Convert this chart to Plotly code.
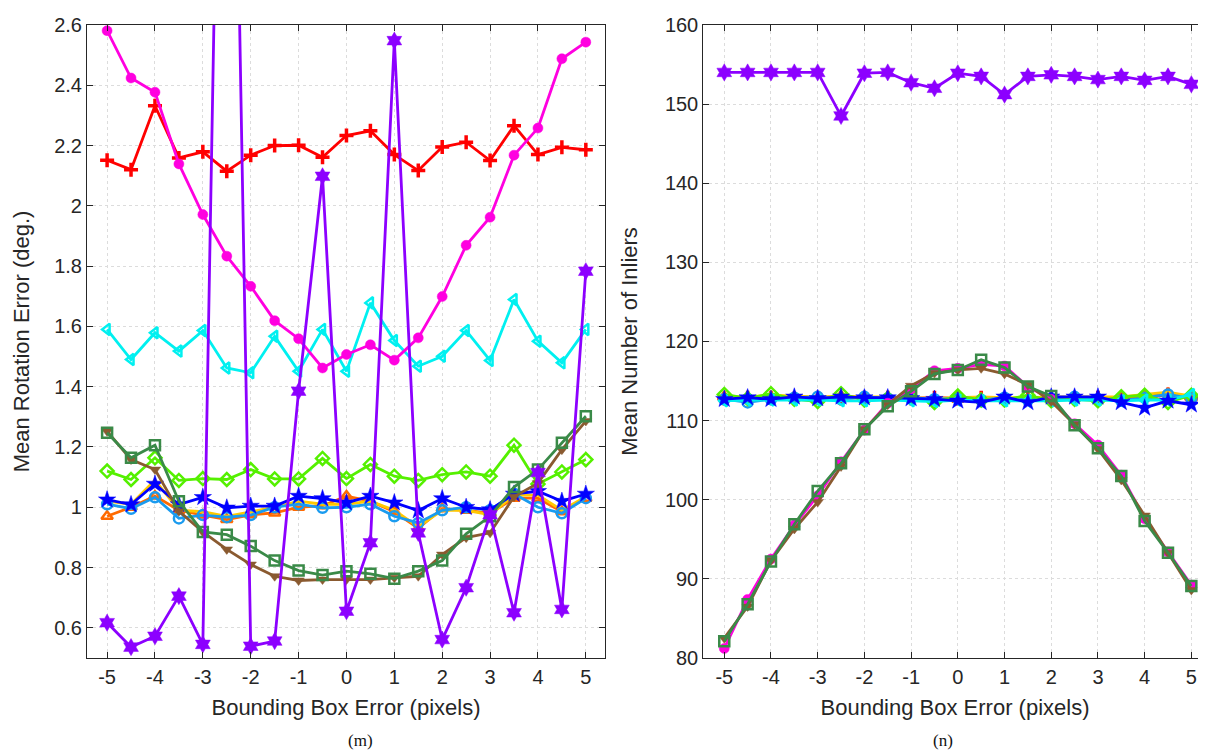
import plotly.graph_objects as go

x_err = [-5, -4.5, -4, -3.5, -3, -2.5, -2, -1.5, -1, -0.5, 0, 0.5, 1, 1.5, 2, 2.5, 3, 3.5, 4, 4.5, 5]

# ---- Left panel: mean rotation error (deg.) ----
rot_red = [2.151, 2.120, 2.332, 2.159, 2.179, 2.115, 2.168, 2.200, 2.201, 2.161, 2.233, 2.249, 2.170, 2.117, 2.195, 2.211, 2.150, 2.266, 2.170, 2.194, 2.186]
rot_orange = [0.970, 1.000, 1.037, 0.990, 0.974, 0.959, 0.975, 0.981, 1.000, 1.005, 1.037, 1.020, 0.985, 0.930, 0.995, 0.990, 0.980, 1.030, 1.030, 0.985, 1.030]
rot_yellow = [1.020, 1.010, 1.090, 0.990, 0.985, 0.970, 0.985, 1.000, 1.020, 1.010, 1.010, 1.020, 0.990, 0.935, 0.990, 0.990, 0.975, 1.040, 1.040, 0.990, 1.035]
rot_lblue = [1.010, 0.995, 1.033, 0.963, 0.974, 0.967, 0.974, 1.000, 1.010, 0.998, 1.000, 1.010, 0.970, 0.948, 0.990, 1.000, 0.990, 1.045, 1.000, 0.980, 1.030]
rot_lime = [1.120, 1.092, 1.164, 1.089, 1.095, 1.092, 1.125, 1.094, 1.094, 1.162, 1.095, 1.142, 1.103, 1.089, 1.108, 1.117, 1.103, 1.206, 1.077, 1.117, 1.158]
rot_cyan = [1.590, 1.490, 1.579, 1.518, 1.586, 1.462, 1.446, 1.567, 1.451, 1.590, 1.451, 1.678, 1.553, 1.468, 1.501, 1.586, 1.487, 1.689, 1.551, 1.479, 1.590]
rot_blue = [1.025, 1.009, 1.077, 1.009, 1.033, 0.998, 1.004, 1.004, 1.037, 1.029, 1.015, 1.037, 1.015, 0.989, 1.029, 1.000, 0.992, 1.044, 1.053, 1.020, 1.044]
rot_magenta = [2.581, 2.424, 2.377, 2.139, 1.971, 1.833, 1.733, 1.619, 1.559, 1.462, 1.507, 1.539, 1.488, 1.562, 1.699, 1.869, 1.962, 2.168, 2.258, 2.488, 2.543]
rot_brown = [1.252, 1.158, 1.125, 0.987, 0.918, 0.860, 0.810, 0.771, 0.757, 0.760, 0.760, 0.760, 0.766, 0.771, 0.843, 0.899, 0.915, 1.035, 1.080, 1.191, 1.286]
rot_green = [1.247, 1.164, 1.206, 1.020, 0.918, 0.909, 0.871, 0.823, 0.790, 0.775, 0.788, 0.779, 0.763, 0.788, 0.823, 0.912, 0.970, 1.067, 1.125, 1.214, 1.302]
rot_purple = [0.617, 0.536, 0.572, 0.705, 0.545, 5.000, 0.539, 0.556, 1.385, 2.098, 0.655, 0.882, 2.548, 0.915, 0.561, 0.733, 0.975, 0.650, 1.115, 0.661, 1.783]

# ---- Right panel: mean number of inliers ----
inl_red = [112.8, 112.9, 112.9, 112.8, 112.9, 112.8, 112.9, 112.9, 112.8, 112.9, 112.8, 112.9, 112.7, 112.9, 112.6, 112.8, 112.9, 112.7, 112.8, 113.3, 112.8]
inl_orange = [113.0, 112.8, 113.0, 112.9, 112.8, 113.1, 112.9, 112.9, 112.9, 112.6, 112.7, 112.8, 112.8, 112.7, 112.9, 112.9, 112.8, 112.9, 113.2, 113.4, 112.9]
inl_yellow = [113.1, 113.0, 113.2, 113.1, 113.0, 113.1, 113.0, 113.0, 112.9, 112.8, 112.9, 113.0, 112.9, 112.9, 113.0, 113.0, 113.0, 113.0, 113.3, 113.6, 113.1]
inl_lblue = [112.7, 112.3, 112.7, 112.9, 113.0, 112.7, 113.0, 112.8, 112.9, 112.7, 112.8, 112.6, 112.9, 112.6, 112.8, 113.0, 112.7, 112.5, 112.9, 113.3, 112.8]
inl_lime = [113.3, 112.8, 113.4, 112.7, 112.4, 113.4, 112.6, 112.8, 113.0, 112.3, 113.1, 112.6, 112.6, 113.2, 112.5, 112.7, 112.5, 113.0, 113.2, 112.3, 113.2]
inl_cyan = [112.5, 112.6, 112.6, 112.6, 112.6, 112.5, 112.5, 112.6, 112.5, 112.4, 112.6, 112.5, 112.5, 112.5, 112.5, 112.6, 112.6, 112.5, 112.6, 112.6, 113.3]
inl_blue = [112.7, 112.9, 112.7, 113.0, 112.8, 113.0, 112.9, 112.9, 112.8, 112.7, 112.5, 112.3, 113.0, 112.3, 113.0, 113.0, 113.0, 112.3, 111.6, 112.5, 112.0]
inl_magenta = [81.2, 87.4, 92.5, 96.8, 100.5, 104.8, 108.8, 112.2, 114.0, 116.3, 116.6, 117.1, 116.9, 114.3, 112.7, 109.6, 106.9, 103.1, 97.6, 93.4, 89.2]
inl_brown = [82.5, 86.5, 92.3, 96.3, 99.7, 104.2, 108.9, 112.0, 114.4, 116.0, 116.4, 116.6, 115.9, 114.5, 112.4, 109.5, 106.4, 102.5, 98.0, 93.3, 88.6]
inl_green = [82.1, 86.8, 92.2, 96.9, 101.1, 104.6, 108.9, 111.8, 113.7, 115.9, 116.4, 117.7, 116.7, 114.3, 113.1, 109.4, 106.5, 103.0, 97.3, 93.3, 89.1]
inl_purple = [154.0, 154.0, 154.0, 154.0, 154.0, 148.5, 153.9, 154.0, 152.7, 152.0, 153.9, 153.5, 151.2, 153.5, 153.7, 153.5, 153.1, 153.5, 153.0, 153.5, 152.5]

# style per series: (left data, right data, color, symbol, filled)
series = [
    (rot_red, inl_red, "#FF0000", "cross-thin", False),
    (rot_orange, inl_orange, "#FF6A00", "triangle-up-open", False),
    (rot_yellow, inl_yellow, "#FFC800", None, False),
    (rot_lblue, inl_lblue, "#1A9BEF", "circle-open", False),
    (rot_lime, inl_lime, "#55F000", "diamond-open", False),
    (rot_cyan, inl_cyan, "#00F0F0", "triangle-left-open", False),
    (rot_blue, inl_blue, "#0000FF", "star", True),
    (rot_magenta, inl_magenta, "#FF00E0", "circle", True),
    (rot_brown, inl_brown, "#8A5A30", "triangle-down", True),
    (rot_green, inl_green, "#3A8A48", "square-open", False),
    (rot_purple, inl_purple, "#8C00FF", "hexagram", True),
]

fig = go.Figure()
for ldata, rdata, col, sym, filled in series:
    for data, xa, ya in ((ldata, "x", "y"), (rdata, "x2", "y2")):
        if sym is None:
            mode = "lines"
            marker = None
        else:
            mode = "lines+markers"
            msize = 13 if sym in ("star", "hexagram") else 10
            marker = dict(symbol=sym, size=msize, color=col,
                          line=dict(color=col, width=3.5 if sym == "cross-thin" else (2.5 if not filled else 0.5)))
        fig.add_trace(go.Scatter(x=x_err, y=data, mode=mode, xaxis=xa, yaxis=ya,
                                 line=dict(color=col, width=2.8), marker=marker,
                                 showlegend=False, cliponaxis=True))

tick_font = dict(family="Liberation Sans, Arial, sans-serif", size=20, color="#262626")
title_font = dict(family="Liberation Sans, Arial, sans-serif", size=22, color="#262626")
xticks = [-5, -4, -3, -2, -1, 0, 1, 2, 3, 4, 5]

common_x = dict(tickmode="array", tickvals=xticks, ticktext=[str(v) for v in xticks],
                showline=True, linecolor="#262626", linewidth=1, mirror="ticks",
                ticks="inside", ticklen=6, tickcolor="#262626", automargin=False,
                ticklabelstandoff=1,
                showgrid=True, gridcolor="#DCDCDC", griddash="dot", gridwidth=1,
                zeroline=False, tickfont=tick_font,
                title=dict(text="Bounding Box Error (pixels)", font=title_font, standoff=12))
common_y = dict(showline=True, linecolor="#262626", linewidth=1, mirror="ticks",
                ticks="inside", ticklen=6, tickcolor="#262626", automargin=False,
                showgrid=True, gridcolor="#DCDCDC", griddash="dot", gridwidth=1,
                zeroline=False, tickfont=tick_font)

fig.update_layout(
    width=1206, height=754,
    margin=dict(l=0, r=0, t=0, b=0, autoexpand=False),
    paper_bgcolor="white", plot_bgcolor="white",
    xaxis=dict(domain=[0.0655, 0.495], range=[-5.42, 5.4], anchor="y", **common_x),
    yaxis=dict(domain=[0.138, 0.9775], range=[0.5, 2.6], anchor="x",
               tickvals=[0.6, 0.8, 1.0, 1.2, 1.4, 1.6, 1.8, 2.0, 2.2, 2.4, 2.6],
               ticktext=["0.6", "0.8", "1", "1.2", "1.4", "1.6", "1.8", "2", "2.2", "2.4", "2.6"],
               title=dict(text="Mean Rotation Error (deg.)", font=title_font, standoff=18),
               **common_y),
    xaxis2=dict(domain=[0.5765, 0.994], range=[-5.45, 5.33], anchor="y2", **common_x),
    yaxis2=dict(domain=[0.138, 0.9775], range=[80, 160], anchor="x2",
                tickvals=[80, 90, 100, 110, 120, 130, 140, 150, 160],
                title=dict(text="Mean Number of Inliers", font=title_font, standoff=21),
                **common_y),
    annotations=[
        dict(text="(m)", x=338 / 1206, y=1 - 744 / 754, xref="paper", yref="paper",
             showarrow=False, font=dict(family="Liberation Serif, Times New Roman, serif", size=17, color="#111111")),
        dict(text="(n)", x=947 / 1206, y=1 - 744 / 754, xref="paper", yref="paper",
             showarrow=False, font=dict(family="Liberation Serif, Times New Roman, serif", size=17, color="#111111")),
    ],
)

fig.write_html("out.html")
